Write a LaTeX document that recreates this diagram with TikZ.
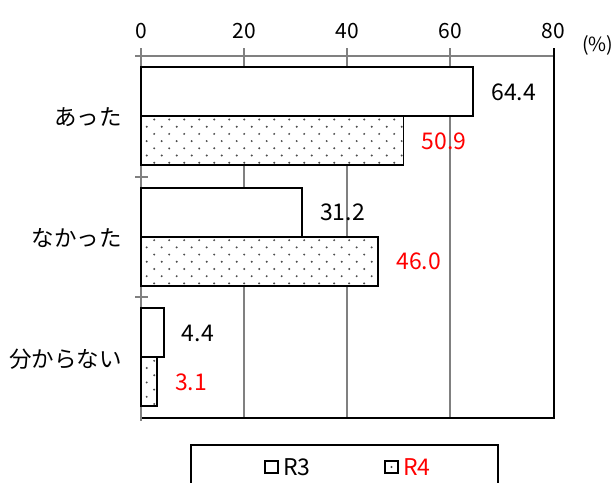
\documentclass[tikz,border=0pt]{standalone}
\usepackage{fontspec}
\setmainfont{Noto Sans CJK JP}
\begin{document}
\begin{tikzpicture}[x=1pt,y=-1pt,
  axisline/.style={draw=black!50,line width=2pt},
  frameline/.style={draw=black,line width=2pt},
  barbox/.style={draw=black,line width=1.8pt,fill=white},
  dotc/.style={fill=black!70},
  cat/.style={anchor=east,font=\fontsize{22.5}{22.5}\selectfont,inner sep=0pt},
  val/.style={anchor=west,font=\fontsize{23}{23}\selectfont,inner sep=0pt},
  tick/.style={anchor=south,font=\fontsize{21}{21}\selectfont,inner sep=0pt},
  leg/.style={anchor=west,font=\fontsize{23}{23}\selectfont,inner sep=0pt}]
\useasboundingbox (0,0) rectangle (615,482);
\fill[white] (0,0) rectangle (615,482);
% gridlines
\foreach \v in {20,40,60} \draw[axisline] ({141+5.1575*\v},56) -- ({141+5.1575*\v},418);
% top axis
\draw[axisline] (141,56) -- (554,56);
\foreach \v in {0,20,40,60} \draw[axisline] ({141+5.1575*\v},48) -- ({141+5.1575*\v},59);
\draw[frameline] (554,48) -- (554,419);
\draw[frameline] (141,418) -- (554,418);
% left axis
\draw[axisline] (141,48) -- (141,421);
\foreach \y in {56,176.67,297.33} \draw[axisline] (135,\y) -- (148,\y);
% axis labels
\node[tick] (t0) at (141,39) {0};
\node[tick] (t20) at (244.15,39) {20};
\node[tick] (t40) at (347.3,39) {40};
\node[tick] (t60) at (450.45,39) {60};
\node[tick] (t80) at (553.6,39) {80};
\node[anchor=west,inner sep=0pt,font=\fontsize{19.5}{19.5}\selectfont] (pct) at (582,45) {(\%)};
% bars
\newcommand\rthreebar[3]{\draw[barbox] (141,#2) rectangle ({141+5.1575*#1},{#2+49});
  \node[val] (#3) at ({141+5.1575*#1+18},{#2+25}) {#1};}
\newcommand\rfourbar[3]{\draw[barbox] (141,#2) rectangle ({141+5.1575*#1},{#2+49});
  \begin{scope}
  \clip (142,{#2+1}) rectangle ({141+5.1575*#1-1},{#2+48});
  \foreach \r in {0,...,6} \foreach \c in {0,...,20}
    \fill[dotc] ({146.7+15*\c+7.5*mod(\r+1,2)},{#2+3.5+7.2*\r}) circle (1.1);
  \end{scope}
  \draw[black,line width=1.8pt] (141,#2) rectangle ({141+5.1575*#1},{#2+49});
  \node[val,text=red] (#3) at ({141+5.1575*#1+18},{#2+25}) {#1};}
\rthreebar{64.4}{67}{a3}
\rfourbar{50.9}{116}{a4}
\rthreebar{31.2}{187.67}{b3}
\rfourbar{46.0}{236.67}{b4}
\rthreebar{4.4}{308.33}{c3}
\rfourbar{3.1}{357.33}{c4}
% category labels
\node[cat] (ca) at (122,117) {あった};
\node[cat] (cb) at (122,238) {なかった};
\node[cat] (cc) at (122,359) {分からない};
% legend
\draw[black,line width=2pt] (191,485) -- (191,445) -- (498,445) -- (498,485);
\draw[black,line width=1.6pt,fill=white] (265,461) rectangle (278,473);
\node[leg] (l3) at (283,467.5) {R3};
\draw[black,line width=1.6pt,fill=white] (385,461) rectangle (398,473);
\fill[black!75] (391.5,467) circle (1.1);
\node[leg,text=red] (l4) at (403,467.5) {R4};
\end{tikzpicture}
\end{document}
